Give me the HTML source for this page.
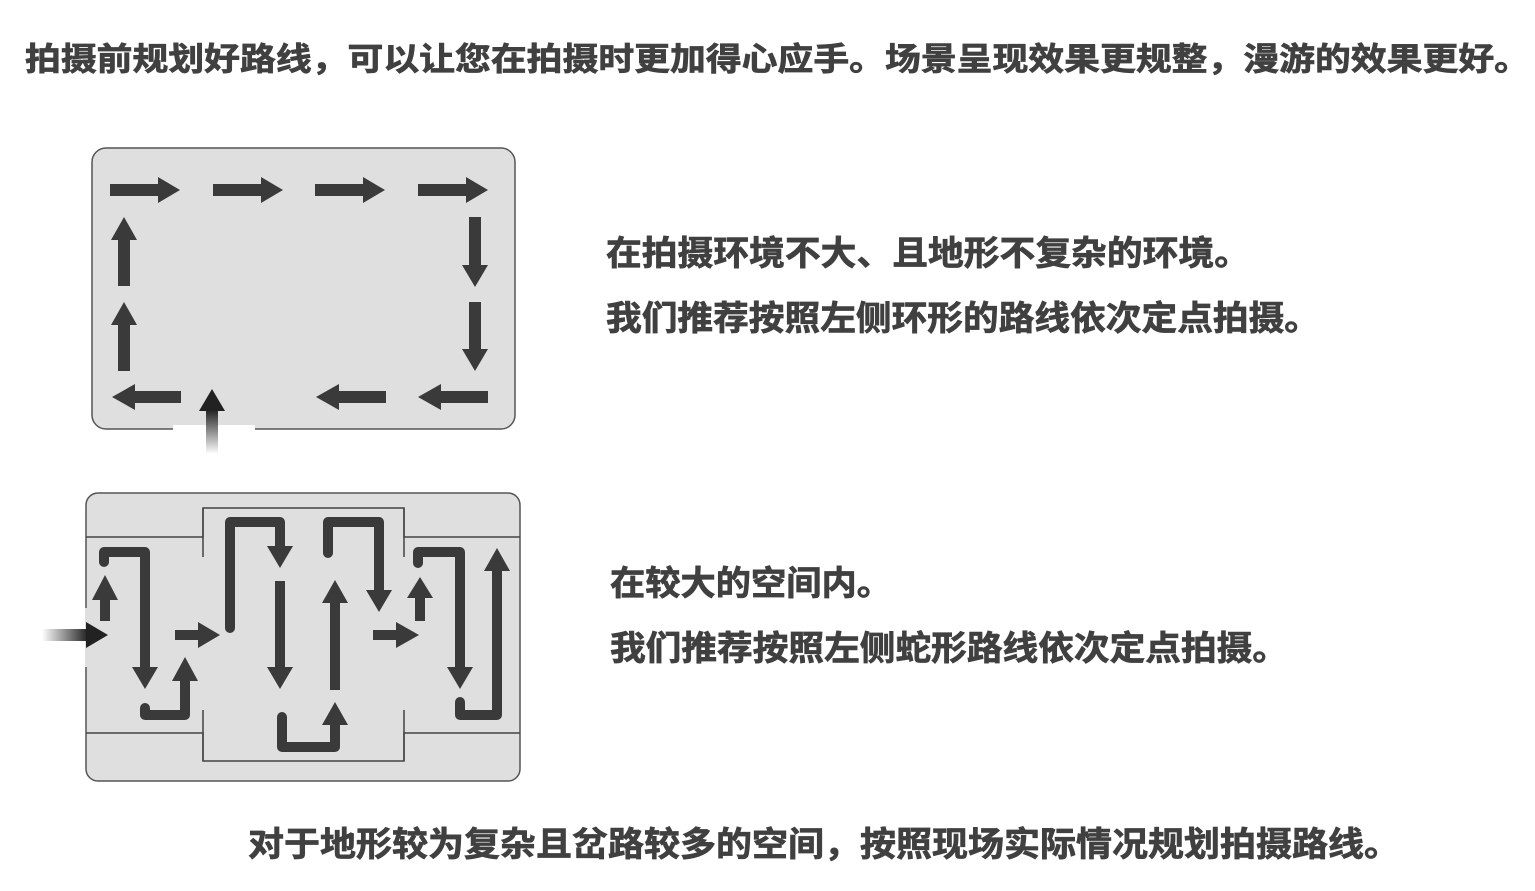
<!DOCTYPE html>
<html><head><meta charset="utf-8"><style>
html,body{margin:0;padding:0;background:#fff;}
svg{display:block;}
text{font-family:"Liberation Sans","Noto Sans CJK SC",sans-serif;font-weight:bold;fill:#404040;stroke:#404040;stroke-width:0.7;}
</style></head><body>
<svg width="1535" height="891" viewBox="0 0 1535 891" xmlns="http://www.w3.org/2000/svg">
<defs>
<linearGradient id="gv" x1="0" y1="1" x2="0" y2="0"><stop offset="0" stop-color="#fff"/><stop offset="1" stop-color="#222"/></linearGradient>
<linearGradient id="gh" x1="0" y1="0" x2="1" y2="0"><stop offset="0" stop-color="#fff"/><stop offset="1" stop-color="#222"/></linearGradient>
</defs>
<text x="25" y="70" font-size="32" textLength="1505" lengthAdjust="spacingAndGlyphs">拍摄前规划好路线，可以让您在拍摄时更加得心应手。场景呈现效果更规整，漫游的效果更好。</text>

<!-- Box 1 -->
<rect x="92" y="148" width="423" height="281" rx="14" fill="#dfdfdf" stroke="#555" stroke-width="1.5"/>
<rect x="173" y="425" width="82" height="8" fill="#fff"/>
<g stroke="#3a3a3a" stroke-width="12" fill="none">
<path d="M110 190H158M213 190H261M315 190H363M418 190H466"/>
<path d="M475 217V265M475 302V349"/>
<path d="M488 397H441M386 397H339M181 397H135"/>
<path d="M124 371V325M124 286V240"/>
</g>
<g fill="#3a3a3a">
<polygon points="158,177 158,203 180,190"/><polygon points="261,177 261,203 283,190"/>
<polygon points="363,177 363,203 385,190"/><polygon points="466,177 466,203 488,190"/>
<polygon points="462,265 488,265 475,287"/><polygon points="462,349 488,349 475,371"/>
<polygon points="441,384 441,410 418,397"/><polygon points="339,384 339,410 316,397"/>
<polygon points="135,384 135,410 112,397"/>
<polygon points="111,325 137,325 124,302"/><polygon points="111,240 137,240 124,217"/>
</g>
<rect x="206" y="410" width="12" height="44" fill="url(#gv)"/>
<polygon points="199,411 225,411 212,389" fill="#222"/>

<!-- Box 2 -->
<rect x="86" y="493" width="434" height="288" rx="12" fill="#dfdfdf" stroke="#555" stroke-width="1.5"/>
<g stroke="#444" stroke-width="1.5" fill="none">
<path d="M86 537H203V508H404V537H520"/>
<path d="M203 508V557M404 508V557"/>
<path d="M86 733H203V761H404V733H520"/>
<path d="M203 710V761M404 710V761"/>
</g>
<rect x="85" y="608" width="3" height="59" fill="#dfdfdf"/>
<g stroke="#3a3a3a" stroke-width="10" fill="none" stroke-linecap="round" stroke-linejoin="round">
<path d="M105 621V600" stroke-linecap="butt"/>
<path d="M104 562V552H145V667"/>
<path d="M145 708V715H185V681"/>
<path d="M175 635H198" stroke-linecap="butt"/>
<path d="M230 628V522H280V546"/>
<path d="M280 581V667" stroke-linecap="butt"/>
<path d="M282 717V747H335V725"/>
<path d="M335 690V603" stroke-linecap="butt"/>
<path d="M328 553V522H379V590"/>
<path d="M373 635H396" stroke-linecap="butt"/>
<path d="M420 621V598" stroke-linecap="butt"/>
<path d="M418 563V552H460V667"/>
<path d="M460 702V715H497V571"/>
</g>
<g fill="#3a3a3a">
<polygon points="92,600 118,600 105,575"/>
<polygon points="132,667 158,667 145,689"/>
<polygon points="172,681 198,681 185,657"/>
<polygon points="198,622 198,648 220,635"/>
<polygon points="267,546 293,546 280,568"/>
<polygon points="267,667 293,667 280,689"/>
<polygon points="322,725 348,725 335,702"/>
<polygon points="322,603 348,603 335,580"/>
<polygon points="366,590 392,590 379,612"/>
<polygon points="396,622 396,648 419,635"/>
<polygon points="407,598 433,598 420,577"/>
<polygon points="447,667 473,667 460,689"/>
<polygon points="484,571 510,571 497,548"/>
</g>
<rect x="42" y="629" width="46" height="12" fill="url(#gh)"/>
<polygon points="86,622 86,648 108,635" fill="#222"/>

<text x="606" y="265" font-size="34" textLength="644" lengthAdjust="spacingAndGlyphs">在拍摄环境不大、且地形不复杂的环境。</text>
<text x="606" y="330" font-size="34" textLength="714" lengthAdjust="spacingAndGlyphs">我们推荐按照左侧环形的路线依次定点拍摄。</text>
<text x="610" y="595" font-size="34" textLength="282" lengthAdjust="spacingAndGlyphs">在较大的空间内。</text>
<text x="610" y="660" font-size="34" textLength="678" lengthAdjust="spacingAndGlyphs">我们推荐按照左侧蛇形路线依次定点拍摄。</text>
<text x="248" y="856" font-size="34" textLength="1152" lengthAdjust="spacingAndGlyphs">对于地形较为复杂且岔路较多的空间，按照现场实际情况规划拍摄路线。</text>
</svg>
</body></html>
